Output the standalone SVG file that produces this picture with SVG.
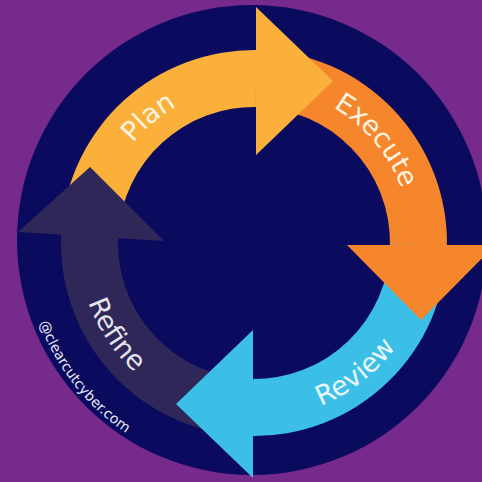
<svg xmlns="http://www.w3.org/2000/svg" width="482" height="482" viewBox="0 0 482 482">
  <defs>
    <style>
      .lbl { font-family: "DejaVu Sans", Verdana, sans-serif; font-size: 27px; }
      .warm { fill: #FFF3E0; }
      .cool { fill: #EAF7FC; }
      .dim { fill: #E4E3EE; }
      .copy { font-family: "DejaVu Sans", Verdana, sans-serif; font-size: 14px; fill: #E6E8F2; }
    </style>
    <path id="p-plan" d="M99.4,270.3 A157,157 0 0 1 307.7,95.5"/>
    <path id="p-exec" d="M226.7,88.4 A157,157 0 0 1 401.5,296.7"/>
    <path id="p-rev" d="M188.1,406.2 A176,176 0 0 0 428.3,218.5"/>
    <path id="p-ref" d="M96.5,164.5 A176,176 0 0 0 264.7,418.7"/>
    <path id="p-copy" d="M41.4,157.9 A229,229 0 0 0 286.7,469.7"/>
  </defs>
  <rect x="0" y="0" width="482" height="482" fill="#762A8B"/>
  <circle cx="252" cy="240" r="235" fill="#0A0B5E"/>

  <g id="plan">
    <path d="M61.42,230.21 A193,193 0 0 1 259.05,50.07 L257.56,107.05 A136,136 0 0 0 118.30,233.99 Z" fill="#FBB03B"/>
    <text class="lbl warm"><textPath href="#p-plan" startOffset="50%" text-anchor="middle">Plan</textPath></text>
  </g>
  <g id="execute">
    <path d="M256.36,50.01 A193,193 0 0 1 446.93,248.05 L389.95,246.56 A136,136 0 0 0 255.66,107.01 Z" fill="#F5862B"/>
    <text class="lbl warm"><textPath href="#p-exec" startOffset="50%" text-anchor="middle">Execute</textPath></text>
  </g>
  <g id="review">
    <path d="M446.99,245.36 A193,193 0 0 1 248.95,435.93 L250.44,378.95 A136,136 0 0 0 389.99,244.66 Z" fill="#3BBFE6"/>
    <text class="lbl cool"><textPath href="#p-rev" startOffset="50%" text-anchor="middle">Review</textPath></text>
  </g>
  <g id="refine">
    <path d="M252.65,436.0 A193,193 0 0 1 61.73,226.18 L118.52,231.15 A136,136 0 0 0 253.05,379.0 Z" fill="#2E2757"/>
    <text class="lbl dim"><textPath href="#p-ref" startOffset="50%" text-anchor="middle">Refine</textPath></text>
  </g>

  <g id="connectors">
    <polygon points="256,7 333,81 256,155" fill="#FBB03B"/>
    <polygon points="347,245 495,245 421,320" fill="#F5862B"/>
    <polygon points="253,330 253,478 176,404" fill="#3BBFE6"/>
    <polygon points="18,232 164,241 90,167" fill="#2E2757"/>
  </g>

  <g id="credit">
    <text class="copy"><textPath href="#p-copy" startOffset="50%" text-anchor="middle">@clearcutcyber.com</textPath></text>
  </g>
</svg>
